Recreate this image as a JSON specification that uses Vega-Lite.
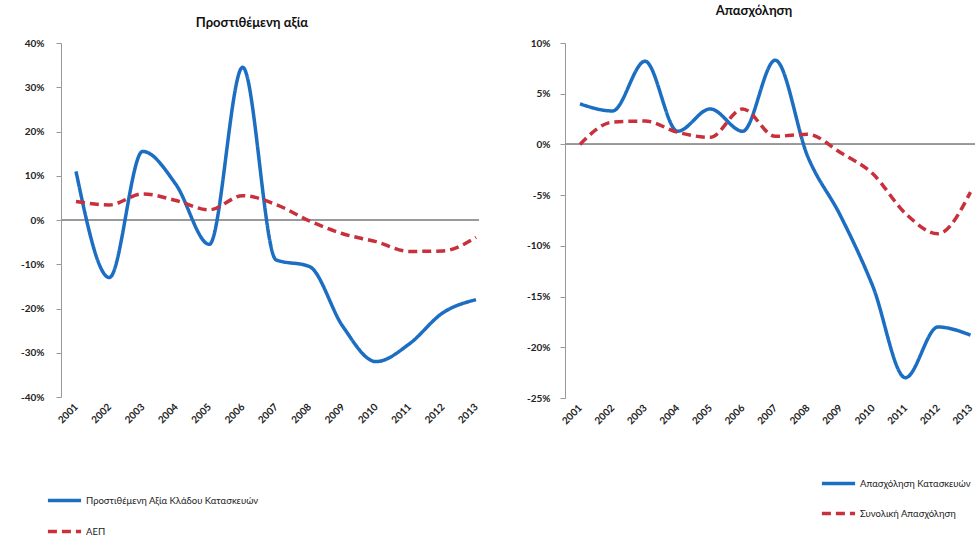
{
  "$schema": "https://vega.github.io/schema/vega-lite/v6.json",
  "background": "white",
  "padding": {"left": 20, "top": 5, "right": 0, "bottom": 0},
  "config": {
    "font": "Lato",
    "view": {"stroke": null},
    "axis": {"labelFont": "Lato", "labelFontSize": 10, "labelColor": "#222", "labelFontWeight": "bold", "domainColor": "#999", "tickColor": "#999", "grid": false, "title": null},
    "title": {"font": "Lato", "fontSize": 13, "fontWeight": "bold", "color": "#111"},
    "legend": {"labelFont": "Lato", "labelFontSize": 9.5, "labelColor": "#222", "title": null, "labelLimit": 400}
  },
  "datasets": {
    "va": [
      {"series": "Προστιθέμενη Αξία Κλάδου Κατασκευών", "year": 2001, "value": 11},
      {"series": "Προστιθέμενη Αξία Κλάδου Κατασκευών", "year": 2002, "value": -13},
      {"series": "Προστιθέμενη Αξία Κλάδου Κατασκευών", "year": 2003, "value": 15.5},
      {"series": "Προστιθέμενη Αξία Κλάδου Κατασκευών", "year": 2004, "value": 8},
      {"series": "Προστιθέμενη Αξία Κλάδου Κατασκευών", "year": 2005, "value": -5.5},
      {"series": "Προστιθέμενη Αξία Κλάδου Κατασκευών", "year": 2006, "value": 34.5},
      {"series": "Προστιθέμενη Αξία Κλάδου Κατασκευών", "year": 2007, "value": -9},
      {"series": "Προστιθέμενη Αξία Κλάδου Κατασκευών", "year": 2008, "value": -10.5},
      {"series": "Προστιθέμενη Αξία Κλάδου Κατασκευών", "year": 2009, "value": -24},
      {"series": "Προστιθέμενη Αξία Κλάδου Κατασκευών", "year": 2010, "value": -32},
      {"series": "Προστιθέμενη Αξία Κλάδου Κατασκευών", "year": 2011, "value": -28},
      {"series": "Προστιθέμενη Αξία Κλάδου Κατασκευών", "year": 2012, "value": -21},
      {"series": "Προστιθέμενη Αξία Κλάδου Κατασκευών", "year": 2013, "value": -18},
      {"series": "ΑΕΠ", "year": 2001, "value": 4.2},
      {"series": "ΑΕΠ", "year": 2002, "value": 3.4},
      {"series": "ΑΕΠ", "year": 2003, "value": 5.9},
      {"series": "ΑΕΠ", "year": 2004, "value": 4.4},
      {"series": "ΑΕΠ", "year": 2005, "value": 2.3},
      {"series": "ΑΕΠ", "year": 2006, "value": 5.5},
      {"series": "ΑΕΠ", "year": 2007, "value": 3.5},
      {"series": "ΑΕΠ", "year": 2008, "value": -0.2},
      {"series": "ΑΕΠ", "year": 2009, "value": -3.1},
      {"series": "ΑΕΠ", "year": 2010, "value": -4.9},
      {"series": "ΑΕΠ", "year": 2011, "value": -7.1},
      {"series": "ΑΕΠ", "year": 2012, "value": -7.0},
      {"series": "ΑΕΠ", "year": 2013, "value": -3.9}
    ],
    "emp": [
      {"series": "Απασχόληση Κατασκευών", "year": 2001, "value": 4},
      {"series": "Απασχόληση Κατασκευών", "year": 2002, "value": 3.3},
      {"series": "Απασχόληση Κατασκευών", "year": 2003, "value": 8.2},
      {"series": "Απασχόληση Κατασκευών", "year": 2004, "value": 1.3},
      {"series": "Απασχόληση Κατασκευών", "year": 2005, "value": 3.5},
      {"series": "Απασχόληση Κατασκευών", "year": 2006, "value": 1.3},
      {"series": "Απασχόληση Κατασκευών", "year": 2007, "value": 8.3},
      {"series": "Απασχόληση Κατασκευών", "year": 2008, "value": -1.2},
      {"series": "Απασχόληση Κατασκευών", "year": 2009, "value": -7},
      {"series": "Απασχόληση Κατασκευών", "year": 2010, "value": -14},
      {"series": "Απασχόληση Κατασκευών", "year": 2011, "value": -23},
      {"series": "Απασχόληση Κατασκευών", "year": 2012, "value": -18},
      {"series": "Απασχόληση Κατασκευών", "year": 2013, "value": -18.8},
      {"series": "Συνολική Απασχόληση", "year": 2001, "value": 0},
      {"series": "Συνολική Απασχόληση", "year": 2002, "value": 2.2},
      {"series": "Συνολική Απασχόληση", "year": 2003, "value": 2.3},
      {"series": "Συνολική Απασχόληση", "year": 2004, "value": 1.2},
      {"series": "Συνολική Απασχόληση", "year": 2005, "value": 0.7},
      {"series": "Συνολική Απασχόληση", "year": 2006, "value": 3.5},
      {"series": "Συνολική Απασχόληση", "year": 2007, "value": 0.8},
      {"series": "Συνολική Απασχόληση", "year": 2008, "value": 1.0},
      {"series": "Συνολική Απασχόληση", "year": 2009, "value": -0.8},
      {"series": "Συνολική Απασχόληση", "year": 2010, "value": -2.9},
      {"series": "Συνολική Απασχόληση", "year": 2011, "value": -6.8},
      {"series": "Συνολική Απασχόληση", "year": 2012, "value": -8.8},
      {"series": "Συνολική Απασχόληση", "year": 2013, "value": -4.7}
    ]
  },
  "hconcat": [
    {
      "title": {"text": "Προστιθέμενη αξία", "dx": -18, "offset": 8},
      "width": 418,
      "height": 354,
      "data": {"name": "va"},
      "layer": [
        {
          "mark": {"type": "rule", "color": "#999", "strokeWidth": 1},
          "encoding": {"y": {"datum": 0, "type": "quantitative", "scale": {"domain": [-40, 40]}}}
        },
        {
          "mark": {"type": "line", "interpolate": "monotone", "strokeWidth": 3.5},
          "encoding": {
            "x": {"field": "year", "type": "quantitative", "scale": {"domain": [2000.55, 2013.09], "nice": false, "zero": false},
                  "axis": {"values": [2001,2002,2003,2004,2005,2006,2007,2008,2009,2010,2011,2012,2013], "format": "d", "labelAngle": -45, "labelAlign": "right", "labelBaseline": "middle", "domain": false, "ticks": false, "labelPadding": 8}},
            "y": {"field": "value", "type": "quantitative", "scale": {"domain": [-40, 40], "nice": false},
                  "axis": {"values": [-40,-30,-20,-10,0,10,20,30,40], "labelExpr": "datum.value + '%'", "tickSize": 5, "labelPadding": 12}},
            "color": {"field": "series", "type": "nominal", "scale": {"domain": ["Προστιθέμενη Αξία Κλάδου Κατασκευών", "ΑΕΠ"], "range": ["#1b6ec2", "#c8303c"]},
                      "legend": {"orient": "none", "legendX": -15, "legendY": 439, "symbolType": "stroke", "symbolSize": 1100, "symbolStrokeWidth": 3.5, "rowPadding": 5, "labelOffset": 3}},
            "strokeDash": {"field": "series", "type": "nominal", "scale": {"domain": ["Προστιθέμενη Αξία Κλάδου Κατασκευών", "ΑΕΠ"], "range": [[1, 0], [9, 5]]},
                      "legend": {"orient": "none", "legendX": -15, "legendY": 439, "symbolType": "stroke", "symbolSize": 1100, "symbolStrokeWidth": 3.5, "rowPadding": 5, "labelOffset": 3}}
          }
        }
      ]
    },
    {
      "title": {"text": "Απασχόληση", "dx": -17, "offset": 20},
      "width": 412,
      "height": 355,
      "data": {"name": "emp"},
      "layer": [
        {
          "mark": {"type": "rule", "color": "#999", "strokeWidth": 1},
          "encoding": {"y": {"datum": 0, "type": "quantitative", "scale": {"domain": [-25, 10]}}}
        },
        {
          "mark": {"type": "line", "interpolate": "monotone", "strokeWidth": 3.5},
          "encoding": {
            "x": {"field": "year", "type": "quantitative", "scale": {"domain": [2000.54, 2013.2], "nice": false, "zero": false},
                  "axis": {"values": [2001,2002,2003,2004,2005,2006,2007,2008,2009,2010,2011,2012,2013], "format": "d", "labelAngle": -45, "labelAlign": "right", "labelBaseline": "middle", "domain": false, "ticks": false, "labelPadding": 8}},
            "y": {"field": "value", "type": "quantitative", "scale": {"domain": [-25, 10], "nice": false},
                  "axis": {"values": [-25,-20,-15,-10,-5,0,5,10], "labelExpr": "datum.value + '%'", "tickSize": 5, "labelPadding": 10}},
            "color": {"field": "series", "type": "nominal", "scale": {"domain": ["Απασχόληση Κατασκευών", "Συνολική Απασχόληση"], "range": ["#1b6ec2", "#c8303c"]},
                      "legend": {"orient": "none", "legendX": 255, "legendY": 422, "symbolType": "stroke", "symbolSize": 1100, "symbolStrokeWidth": 3.5, "rowPadding": 4, "labelOffset": 3}},
            "strokeDash": {"field": "series", "type": "nominal", "scale": {"domain": ["Απασχόληση Κατασκευών", "Συνολική Απασχόληση"], "range": [[1, 0], [9, 5]]},
                      "legend": {"orient": "none", "legendX": 255, "legendY": 422, "symbolType": "stroke", "symbolSize": 1100, "symbolStrokeWidth": 3.5, "rowPadding": 4, "labelOffset": 3}}
          }
        }
      ]
    }
  ],
  "spacing": 42,
  "resolve": {"scale": {"color": "independent", "strokeDash": "independent", "x": "independent", "y": "independent"}, "legend": {"color": "independent", "strokeDash": "independent"}}
}
